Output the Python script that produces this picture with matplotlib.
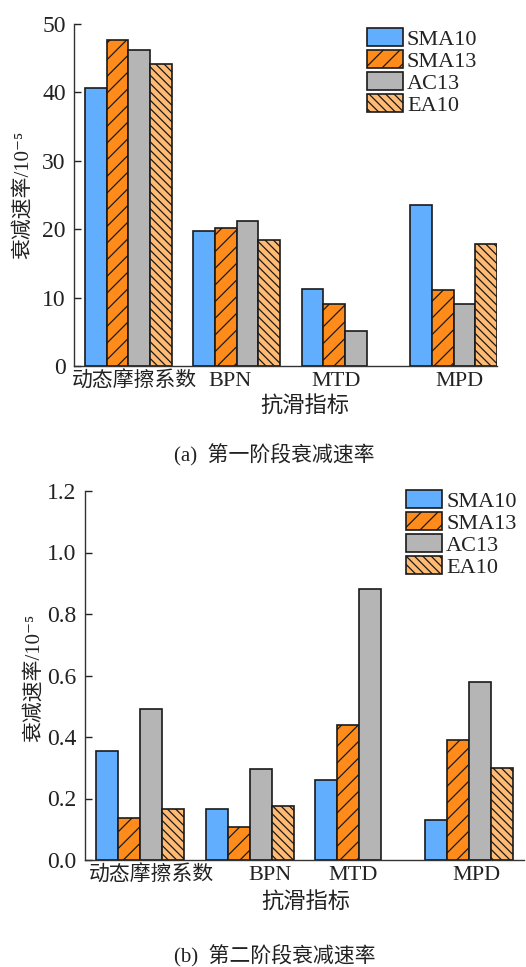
import numpy as np
import matplotlib
matplotlib.use("Agg")
import matplotlib.pyplot as plt

plt.rcParams["font.family"] = ["Liberation Serif", "Noto Sans CJK SC", "DejaVu Serif"]
plt.rcParams["hatch.linewidth"] = 0.9
plt.rcParams["text.color"] = "#222222"
plt.rcParams["axes.labelcolor"] = "#222222"
plt.rcParams["xtick.color"] = "#222222"
plt.rcParams["ytick.color"] = "#222222"

# ---- data ----
categories = ["动态摩擦系数", "BPN", "MTD", "MPD"]
series = ["SMA10", "SMA13", "AC13", "EA10"]

# (a) first-stage decay rate, 1e-5
stage1_sma10 = [40.6, 19.8, 11.3, 23.6]
stage1_sma13 = [47.7, 20.2, 9.0, 11.1]
stage1_ac13 = [46.2, 21.2, 5.1, 9.0]
stage1_ea10 = [44.1, 18.4, np.nan, 17.9]

# (b) second-stage decay rate, 1e-5
stage2_sma10 = [0.356, 0.165, 0.259, 0.129]
stage2_sma13 = [0.136, 0.106, 0.440, 0.389]
stage2_ac13 = [0.490, 0.296, 0.880, 0.580]
stage2_ea10 = [0.165, 0.177, np.nan, 0.300]

y1_ticks = [0, 10, 20, 30, 40, 50]
y2_ticks = [0.0, 0.2, 0.4, 0.6, 0.8, 1.0, 1.2]

# ---- styles ----
colors = ["#62AEFE", "#FF8C1A", "#B5B5B5", "#FFBA74"]
hatches = ["", "//", "", "\\\\\\\\"]
edge = "#1a1a1a"
bar_w = 0.2
fs = 15


def draw_panel(ax, values, yticks, ylim, xlim, fmt, label_shift, leg_xy, fig):
    x = np.arange(len(categories))
    for j, (vals, name) in enumerate(zip(values, series)):
        ax.bar(x + (j - 1.5) * bar_w, vals, bar_w, color=colors[j],
               hatch=hatches[j], edgecolor=edge, linewidth=1.2, label=name)
    ax.set_xlim(*xlim)
    ax.set_ylim(*ylim)
    ax.set_yticks(yticks)
    ax.set_yticklabels([fmt.format(v) for v in yticks], fontsize=17)
    ax.set_xticks(x + np.array(label_shift))
    labels = ax.set_xticklabels(categories, fontsize=16)
    labels[0].set_fontsize(fs)
    ax.tick_params(axis="x", length=0, pad=4)
    ax.tick_params(axis="y", direction="in", length=5, width=1, pad=6)
    for s in ["top", "right"]:
        ax.spines[s].set_visible(False)
    for s in ["left", "bottom"]:
        ax.spines[s].set_color("#333333")
        ax.spines[s].set_linewidth(1.0)
    ax.set_ylabel("衰减速率/10⁻⁵", fontsize=fs)
    ax.set_xlabel("抗滑指标", fontsize=16)
    ax.legend(loc="upper left", bbox_to_anchor=leg_xy, bbox_transform=fig.transFigure,
              frameon=False, fontsize=16, handlelength=1.6, handleheight=0.9,
              labelspacing=0.0, handletextpad=0.2, borderpad=0, borderaxespad=0)


fig = plt.figure(figsize=(5.26, 9.67), dpi=100)

ax1 = fig.add_axes([74 / 526, 1 - 366 / 967, 423 / 526, 342 / 967])
draw_panel(ax1, [stage1_sma10, stage1_sma13, stage1_ac13, stage1_ea10],
           y1_ticks, (0, 50), (-0.5, 3.4), "{:d}",
           [0.06, -0.06, -0.08, 0.05], (367 / 526, 1 - 28 / 967), fig)
ax1.xaxis.set_label_coords(0.546, -0.12)
ax1.xaxis.label.set_va("center")
ax1.yaxis.set_label_coords(-0.12, 0.5)
ax1.yaxis.label.set_va("center")

ax2 = fig.add_axes([85 / 526, 1 - 860 / 967, 439 / 526, 369 / 967])
draw_panel(ax2, [stage2_sma10, stage2_sma13, stage2_ac13, stage2_ea10],
           y2_ticks, (0, 1.2), (-0.5, 3.5), "{:.1f}",
           [0.11, 0.19, -0.06, 0.07], (406 / 526, 1 - 490 / 967), fig)
ax2.xaxis.set_label_coords(0.503, -0.1165)
ax2.xaxis.label.set_va("center")
ax2.yaxis.set_label_coords(-0.116, 0.493)
ax2.yaxis.label.set_va("center")

fig.text(274 / 526, 1 - 455 / 967, "(a)  第一阶段衰减速率", ha="center", va="center", fontsize=15)
fig.text(275 / 526, 1 - 956 / 967, "(b)  第二阶段衰减速率", ha="center", va="center", fontsize=15)

fig.savefig("out.png", dpi=100)
